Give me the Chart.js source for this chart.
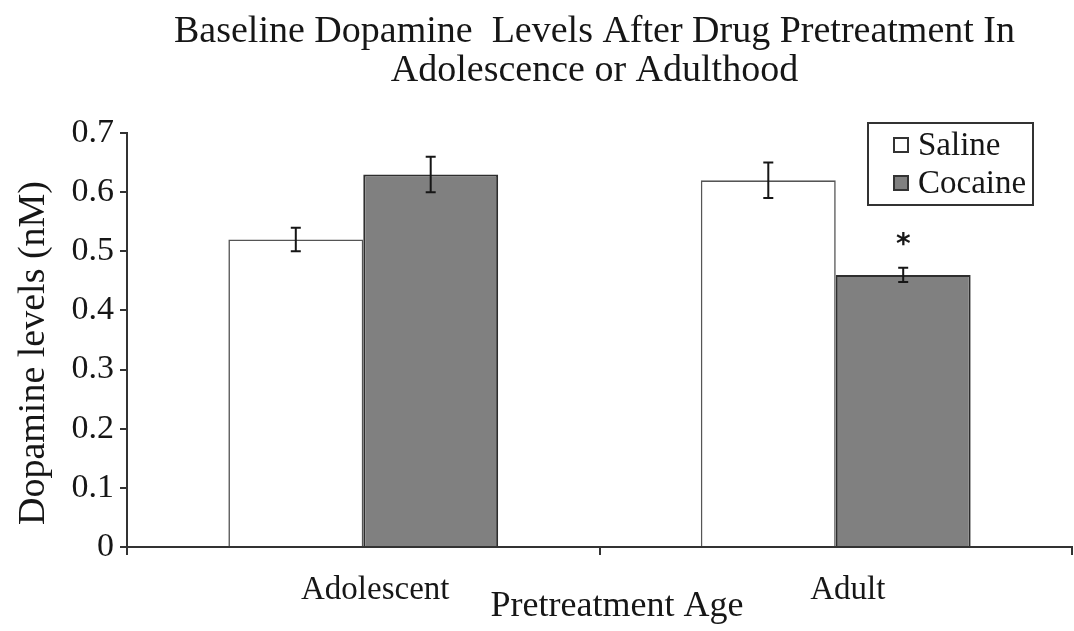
<!DOCTYPE html>
<html>
<head>
<meta charset="utf-8">
<script src="https://cdn.jsdelivr.net/npm/chart.js@4/dist/chart.umd.min.js"></script>
<style>
  html, body { margin: 0; padding: 0; background: #ffffff; }
  #wrap { width: 1074px; height: 631px; }
</style>
</head>
<body>
<div id="wrap"><canvas id="chart" width="1074" height="631"></canvas></div>
<script>
// Pretreatment age groups and mean baseline dopamine (nM) with SEM
const categories = ['Adolescent', 'Adult'];
const seriesNames = ['Saline', 'Cocaine'];
const salineMeans = [0.52, 0.62];
const salineErrors = [0.02, 0.03];
const cocaineMeans = [0.63, 0.46];
const cocaineErrors = [0.03, 0.012];
const cocaineSignificant = [false, true];
const titleLines = ['Baseline Dopamine  Levels After Drug Pretreatment In', 'Adolescence or Adulthood'];
const xAxisTitle = 'Pretreatment Age';
const yAxisTitle = 'Dopamine levels (nM)';

const SERIF = "'Liberation Serif', 'Times New Roman', serif";
const INK = '#161616';

// Figure title, axis titles, legend box, error bars and significance mark
const decorations = {
  id: 'decorations',
  afterDatasetsDraw(chart) {
    const ctx = chart.ctx;
    const y = chart.scales.y;
    ctx.save();
    chart.data.datasets.forEach((ds, di) => {
      const meta = chart.getDatasetMeta(di);
      meta.data.forEach((bar, i) => {
        const v = ds.data[i];
        const e = ds.errors[i];
        const top = y.getPixelForValue(v + e);
        const bot = y.getPixelForValue(v - e);
        const x = bar.x;
        ctx.strokeStyle = INK;
        ctx.lineWidth = 2;
        ctx.beginPath();
        ctx.moveTo(x, top); ctx.lineTo(x, bot);
        ctx.moveTo(x - 5, top); ctx.lineTo(x + 5, top);
        ctx.moveTo(x - 5, bot); ctx.lineTo(x + 5, bot);
        ctx.stroke();
        if (ds.significant && ds.significant[i]) {
          ctx.fillStyle = INK;
          ctx.font = "bold 28px 'DejaVu Sans', sans-serif";
          ctx.textAlign = 'center';
          ctx.textBaseline = 'middle';
          ctx.fillText('*', x, top - 22);
        }
      });
    });
    ctx.restore();
  },
  afterDraw(chart) {
    const ctx = chart.ctx;
    const area = chart.chartArea;
    ctx.save();
    ctx.fillStyle = INK;
    ctx.textAlign = 'center';
    ctx.textBaseline = 'middle';
    ctx.font = '38px ' + SERIF;
    const cx = (area.left + area.right) / 2 - 5;
    ctx.fillText(titleLines[0], cx, 32);
    ctx.fillText(titleLines[1], cx, 71);

    ctx.font = '36px ' + SERIF;
    ctx.fillText(xAxisTitle, 617, 607);

    ctx.save();
    ctx.translate(34, 353);
    ctx.rotate(-Math.PI / 2);
    ctx.font = '38px ' + SERIF;
    ctx.fillText(yAxisTitle, 0, 0);
    ctx.restore();

    // legend
    const lx = 868, ly = 123, lw = 165, lh = 82;
    ctx.lineWidth = 2;
    ctx.strokeStyle = '#333333';
    ctx.strokeRect(lx, ly, lw, lh);
    ctx.textAlign = 'left';
    ctx.font = '33px ' + SERIF;
    chart.data.datasets.forEach((ds, i) => {
      const my = ly + 22 + i * 38;
      ctx.fillStyle = ds.backgroundColor;
      ctx.fillRect(lx + 26, my - 7, 14, 14);
      ctx.lineWidth = 2;
      ctx.strokeStyle = '#333333';
      ctx.strokeRect(lx + 26, my - 7, 14, 14);
      ctx.fillStyle = INK;
      ctx.fillText(ds.label, lx + 50, my + 1);
    });
    ctx.restore();
  }
};

new Chart(document.getElementById('chart'), {
  type: 'bar',
  data: {
    labels: categories,
    datasets: [
      {
        label: seriesNames[0],
        data: salineMeans,
        errors: salineErrors,
        backgroundColor: '#ffffff',
        borderColor: '#555555',
        borderWidth: 1.6,
        borderSkipped: 'bottom'
      },
      {
        label: seriesNames[1],
        data: cocaineMeans,
        errors: cocaineErrors,
        significant: cocaineSignificant,
        backgroundColor: '#808080',
        borderColor: '#2e2e2e',
        borderWidth: 2,
        borderSkipped: 'bottom'
      }
    ]
  },
  plugins: [decorations],
  options: {
    responsive: false,
    animation: false,
    events: [],
    layout: { padding: { left: 0, right: 2, top: 133, bottom: 0 } },
    datasets: { bar: { categoryPercentage: 0.571, barPercentage: 1.0 } },
    plugins: {
      legend: { display: false },
      title: { display: false },
      tooltip: { enabled: false }
    },
    scales: {
      x: {
        grid: { display: true, drawOnChartArea: false, drawTicks: true, tickLength: 8, color: '#333333', lineWidth: 2, offset: true },
        border: { display: true, color: '#333333', width: 2 },
        ticks: { color: INK, font: { family: SERIF, size: 33 }, labelOffset: 12, padding: 16 },
        afterFit(scale) { scale.height = 84; }
      },
      y: {
        min: 0,
        max: 0.7,
        ticks: { stepSize: 0.1, color: INK, font: { family: SERIF, size: 34 }, padding: 6 },
        grid: { display: true, drawOnChartArea: false, drawTicks: true, tickLength: 7, color: '#333333', lineWidth: 2 },
        border: { display: true, color: '#333333', width: 2 },
        afterFit(scale) { scale.width = 127; }
      }
    }
  }
});
</script>
</body>
</html>
